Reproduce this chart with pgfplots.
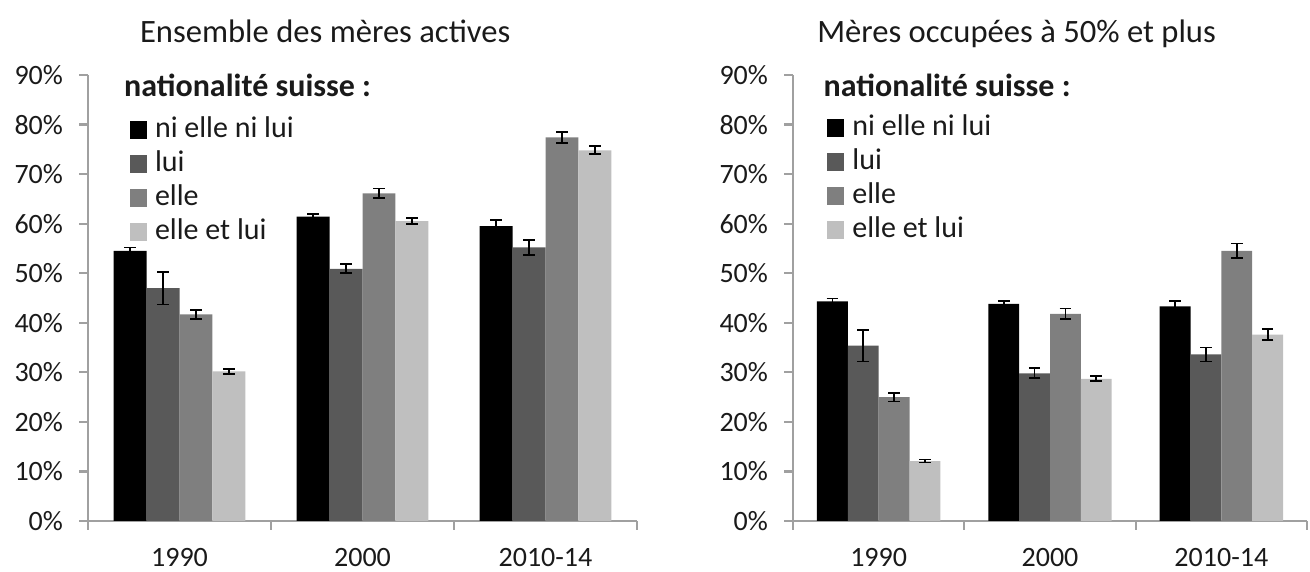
\documentclass[border=0pt]{standalone}
\usepackage{pgfplots}
\pgfplotsset{compat=1.18}
\usepackage{fontspec}
\setmainfont{Carlito}
\definecolor{c1}{HTML}{000000}
\definecolor{c2}{HTML}{595959}
\definecolor{c3}{HTML}{7F7F7F}
\definecolor{c4}{HTML}{BFBFBF}
\definecolor{axgray}{HTML}{A0A0A0}
\definecolor{txt}{HTML}{1A1A1A}

\pgfplotsset{
  mybars/.style={
    scale only axis, clip=false,
    ybar=0pt, bar width=0.18,
    ymin=0, ymax=90, ytick={0,10,...,90},
    yticklabel={\pgfmathprintnumber{\tick}\%},
    xmin=-0.5, xmax=2.5,
    xtick={-0.5,0.5,1.5,2.5},
    x tick label as interval,
    xticklabels={1990,2000,2010-14},
    axis x line=bottom, axis y line=left,
    axis line style={axgray, line width=1.2pt, -},
    tick align=outside,
    major tick length=4.5pt,
    tick style={axgray, line width=1.1pt},
    tick label style={font=\fontsize{14}{16}\selectfont, text=txt},
    yticklabel style={xshift=-4.5pt},
    xticklabel style={yshift=-5.5pt},
    /pgf/number format/assume math mode=true,
    legend cell align=left,
    legend image code/.code={\fill[##1] (0pt,-4.4pt) rectangle (8.75pt,4.4pt); \path (12.75pt,0pt);},
    legend style={draw=none, fill=none, anchor=north west,
      inner sep=0pt, outer sep=0pt,
      font=\fontsize{15}{18}\selectfont, text=txt,
      row sep=3.5pt,
      nodes={inner sep=0pt, outer sep=0pt, text height=10.5pt, text depth=3pt}},
    eb/.style={error bars/.cd, y dir=both, y explicit,
      error bar style={draw=black, line width=0.9pt},
      error mark options={rotate=90, mark size=2.9pt, draw=black, line width=0.9pt}},
  }
}

\begin{document}
\begin{tikzpicture}
\path[use as bounding box] (0pt,0pt) rectangle (655pt,286pt);

% ---------------- left chart ----------------
\begin{axis}[mybars,
  at={(44pt,25.5pt)}, anchor=south west,
  width=274.5pt, height=223pt,
  legend style={at={(rel axis cs:0.0756,0.907)}},
]
\addplot[fill=c1, draw=none, eb] coordinates {(0,54.5) +- (0,0.7) (1,61.4) +- (0,0.5) (2,59.5) +- (0,1.2)};
\addplot[fill=c2, draw=none, eb] coordinates {(0,47.0) +- (0,3.3) (1,50.9) +- (0,0.9) (2,55.2) +- (0,1.5)};
\addplot[fill=c3, draw=none, eb] coordinates {(0,41.7) +- (0,0.9) (1,66.1) +- (0,1.0) (2,77.4) +- (0,1.1)};
\addplot[fill=c4, draw=none, eb] coordinates {(0,30.2) +- (0,0.5) (1,60.5) +- (0,0.6) (2,74.8) +- (0,0.8)};
\legend{ni elle ni lui, lui, elle, elle et lui}
\node[anchor=base west, font=\bfseries\fontsize{16}{19}\selectfont, text=txt] at (rel axis cs:0.053,0.951) {nationalité suisse :};
\node[anchor=base, font=\fontsize{16.3}{19}\selectfont, text=txt] at (rel axis cs:0.432,1.072) {Ensemble des mères actives};
\end{axis}

% ---------------- right chart ----------------
\begin{axis}[mybars,
  at={(396.5pt,25.5pt)}, anchor=south west,
  width=257pt, height=223pt,
  legend style={at={(rel axis cs:0.066,0.911)}},
]
\addplot[fill=c1, draw=none, eb] coordinates {(0,44.3) +- (0,0.6) (1,43.8) +- (0,0.6) (2,43.3) +- (0,1.1)};
\addplot[fill=c2, draw=none, eb] coordinates {(0,35.4) +- (0,3.2) (1,29.8) +- (0,1.0) (2,33.6) +- (0,1.4)};
\addplot[fill=c3, draw=none, eb] coordinates {(0,25.0) +- (0,0.9) (1,41.8) +- (0,1.1) (2,54.5) +- (0,1.5)};
\addplot[fill=c4, draw=none, eb] coordinates {(0,12.1) +- (0,0.3) (1,28.7) +- (0,0.5) (2,37.6) +- (0,1.1)};
\legend{ni elle ni lui, lui, elle, elle et lui}
\node[anchor=base west, font=\bfseries\fontsize{16}{19}\selectfont, text=txt] at (rel axis cs:0.046,0.951) {nationalité suisse :};
\node[anchor=base, font=\fontsize{16.3}{19}\selectfont, text=txt] at (rel axis cs:0.435,1.072) {Mères occupées à 50\% et plus};
\end{axis}
\end{tikzpicture}
\end{document}
